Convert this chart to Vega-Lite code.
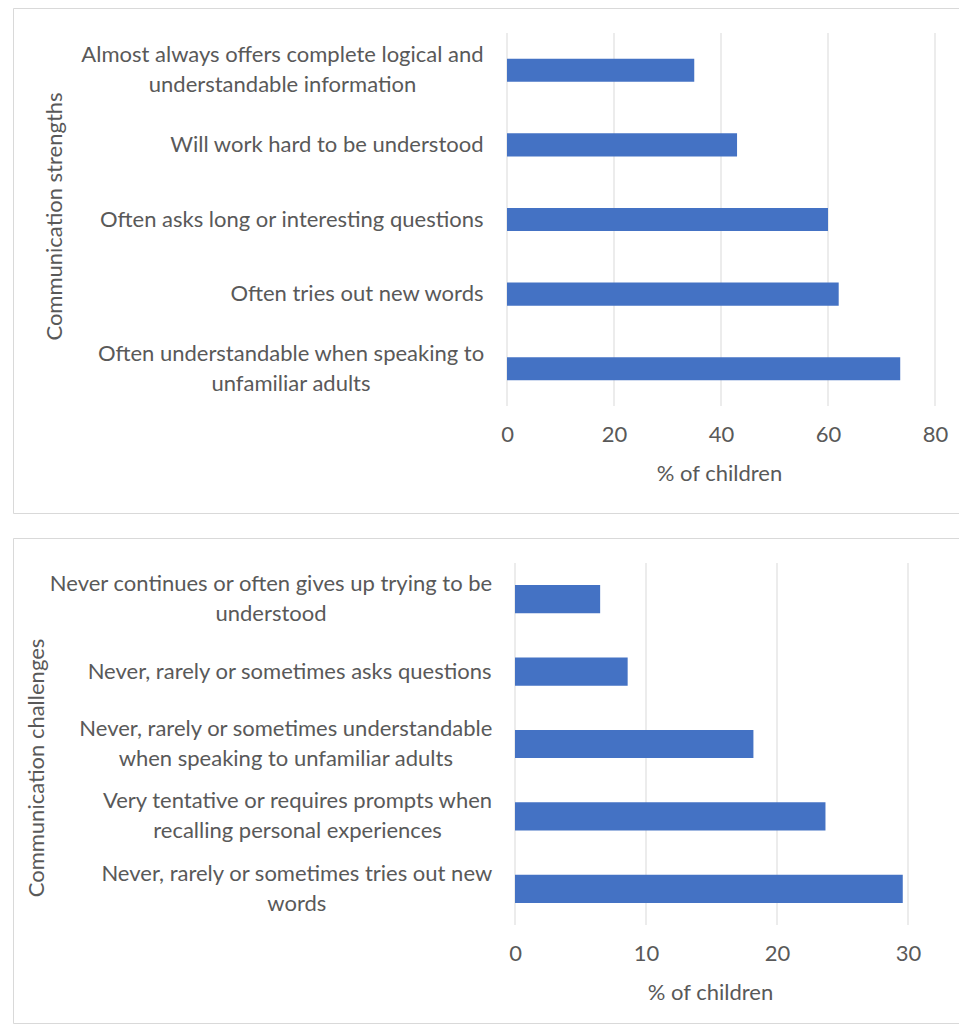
{
  "$schema": "https://vega.github.io/schema/vega-lite/v6.json",
  "padding": {"left": 12, "top": 7, "right": 0, "bottom": 0},
  "background": "white",
  "spacing": 23,
  "config": {
    "view": {"stroke": "#D9D9D9", "strokeWidth": 1},
    "font": "Lato",
    "axis": {
      "labelFont": "Lato", "titleFont": "Lato",
      "labelColor": "#595959", "titleColor": "#595959",
      "labelFontSize": 22, "titleFontSize": 22, "titleFontWeight": "normal",
      "domain": false, "ticks": false, "grid": false,
      "maxExtent": 1000
    }
  },
  "vconcat": [
    {
      "width": 946,
      "height": 505,
      "layer": [
        {
          "data": {"values": [{"pct": 0}, {"pct": 20}, {"pct": 40}, {"pct": 60}, {"pct": 80}]},
          "mark": {"type": "rule", "color": "#D9D9D9", "strokeWidth": 1},
          "encoding": {
            "x": {
              "field": "pct", "type": "quantitative",
              "scale": {"domain": [0, 80], "range": [494, 922], "nice": false},
              "axis": {
                "title": "% of children", "values": [0, 20, 40, 60, 80], "offset": -107,
                "labelPadding": 18, "labelFlush": false,
                "titleX": 706, "titleY": 67, "titleBaseline": "middle", "titleAlign": "center"
              }
            },
            "y": {"datum": 0, "type": "quantitative", "scale": {"domain": [0, 1], "range": [25, 398], "nice": false, "zero": false}, "axis": null},
            "y2": {"datum": 1}
          }
        },
        {
          "data": {"values": [
            {"item": "Almost always offers complete logical and\nunderstandable information", "pct": 35},
            {"item": "Will work hard to be understood", "pct": 43},
            {"item": "Often asks long or interesting questions", "pct": 60},
            {"item": "Often tries out new words", "pct": 62},
            {"item": "Often understandable when speaking to\nunfamiliar adults", "pct": 73.5}
          ]},
          "mark": {"type": "bar", "color": "#4472C4"},
          "encoding": {
            "y": {
              "field": "item", "type": "nominal", "sort": null,
              "scale": {"range": [25, 398], "paddingInner": 0.69, "paddingOuter": 0.345},
              "axis": {
                "title": "Communication strengths", "offset": -494,
                "labelPadding": {"condition": [
                  {"test": "indexof(datum.value, 'Almost') == 0", "value": 225},
                  {"test": "indexof(datum.value, 'Often understandable') == 0", "value": 216.5}
                ], "value": 24},
                "labelAlign": {"condition": {"test": "indexof(datum.value, '\\n') >= 0", "value": "center"}, "value": "right"},
                "labelOffset": {"condition": {"test": "indexof(datum.value, '\\n') >= 0", "value": -15}, "value": 0},
                "labelBaseline": "middle", "labelLineHeight": 30,
                "labelExpr": "split(datum.label, '\\n')", "labelLimit": 0,
                "titleAngle": -90, "titleX": -453, "titleY": 208, "titleAlign": "center", "titleBaseline": "middle"
              }
            },
            "x": {
              "field": "pct", "type": "quantitative",
              "scale": {"domain": [0, 80], "range": [494, 922], "nice": false},
              "axis": {
                "title": "% of children", "values": [0, 20, 40, 60, 80], "offset": -107,
                "labelPadding": 18, "labelFlush": false,
                "titleX": 706, "titleY": 67, "titleBaseline": "middle", "titleAlign": "center"
              }
            }
          }
        }
      ],
      "resolve": {"scale": {"y": "independent"}, "axis": {"y": "independent"}}
    },
    {
      "width": 946,
      "height": 485,
      "layer": [
        {
          "data": {"values": [{"pct": 0}, {"pct": 10}, {"pct": 20}, {"pct": 30}]},
          "mark": {"type": "rule", "color": "#D9D9D9", "strokeWidth": 1},
          "encoding": {
            "x": {
              "field": "pct", "type": "quantitative",
              "scale": {"domain": [0, 30], "range": [502, 895], "nice": false},
              "axis": {
                "title": "% of children", "values": [0, 10, 20, 30], "offset": -98,
                "labelPadding": 18, "labelFlush": false,
                "titleX": 697, "titleY": 67, "titleBaseline": "middle", "titleAlign": "center"
              }
            },
            "y": {"datum": 0, "type": "quantitative", "scale": {"domain": [0, 1], "range": [25, 387], "nice": false, "zero": false}, "axis": null},
            "y2": {"datum": 1}
          }
        },
        {
          "data": {"values": [
            {"item": "Never continues or often gives up trying to be\nunderstood", "pct": 6.5},
            {"item": "Never, rarely or sometimes asks questions", "pct": 8.6},
            {"item": "Never, rarely or sometimes understandable\nwhen speaking to unfamiliar adults", "pct": 18.2},
            {"item": "Very tentative or requires prompts when\nrecalling personal experiences", "pct": 23.7},
            {"item": "Never, rarely or sometimes tries out new\nwords", "pct": 29.6}
          ]},
          "mark": {"type": "bar", "color": "#4472C4"},
          "encoding": {
            "y": {
              "field": "item", "type": "nominal", "sort": null,
              "scale": {"range": [25, 387], "paddingInner": 0.61, "paddingOuter": 0.305},
              "axis": {
                "title": "Communication challenges", "offset": -502,
                "labelPadding": {"condition": [
                  {"test": "indexof(datum.value, 'Never continues') == 0", "value": 244.5},
                  {"test": "indexof(datum.value, 'Never, rarely or sometimes understandable') == 0", "value": 229.7},
                  {"test": "indexof(datum.value, 'Very tentative') == 0", "value": 218},
                  {"test": "indexof(datum.value, 'Never, rarely or sometimes tries') == 0", "value": 218.7}
                ], "value": 24},
                "labelAlign": {"condition": {"test": "indexof(datum.value, '\\n') >= 0", "value": "center"}, "value": "right"},
                "labelOffset": {"condition": {"test": "indexof(datum.value, '\\n') >= 0", "value": -15}, "value": 0},
                "labelBaseline": "middle", "labelLineHeight": 30,
                "labelExpr": "split(datum.label, '\\n')", "labelLimit": 0,
                "titleAngle": -90, "titleX": -479, "titleY": 229.5, "titleAlign": "center", "titleBaseline": "middle"
              }
            },
            "x": {
              "field": "pct", "type": "quantitative",
              "scale": {"domain": [0, 30], "range": [502, 895], "nice": false},
              "axis": {
                "title": "% of children", "values": [0, 10, 20, 30], "offset": -98,
                "labelPadding": 18, "labelFlush": false,
                "titleX": 697, "titleY": 67, "titleBaseline": "middle", "titleAlign": "center"
              }
            }
          }
        }
      ],
      "resolve": {"scale": {"y": "independent"}, "axis": {"y": "independent"}}
    }
  ]
}
